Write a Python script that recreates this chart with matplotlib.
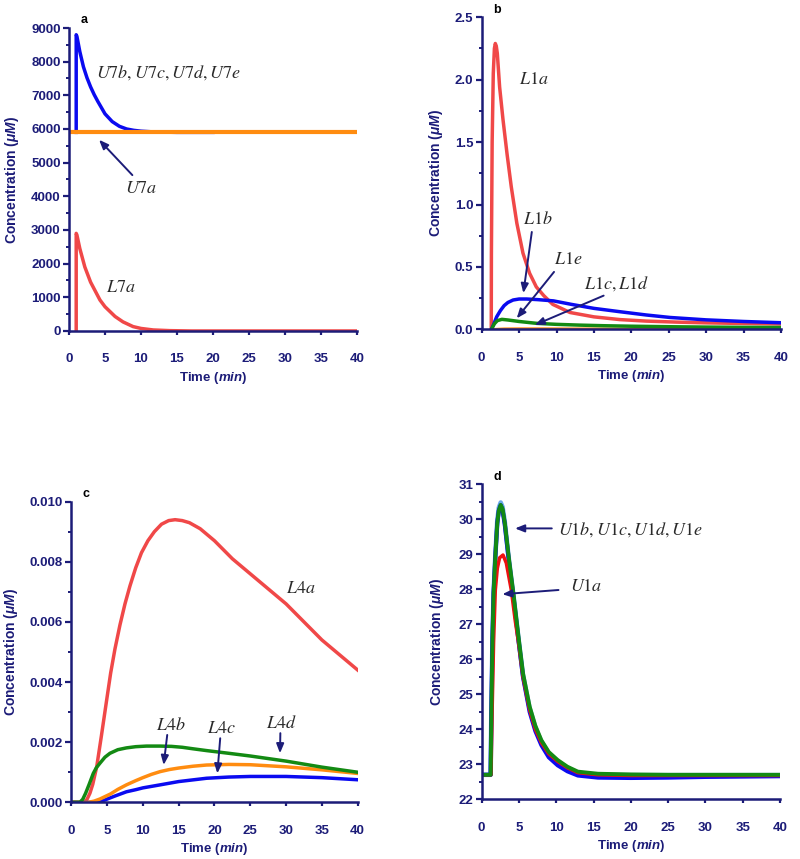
import matplotlib
matplotlib.use('Agg')
import matplotlib.pyplot as plt
from matplotlib.ticker import MultipleLocator, AutoMinorLocator, FormatStrFormatter

plt.rcParams['font.family'] = ['Liberation Sans', 'DejaVu Sans']
plt.rcParams['mathtext.fontset'] = 'custom'
plt.rcParams['mathtext.rm'] = 'Liberation Sans:bold'
plt.rcParams['mathtext.it'] = 'Liberation Sans:italic:bold'
plt.rcParams['mathtext.bf'] = 'Liberation Sans:bold'

NAVY = '#1c1c78'
RED = '#f04848'
BLUE = '#0a0af0'
ORANGE = '#ff8c10'
GREEN = '#138a13'
LABEL = '#2a2a2a'

# ---- panel a: U7 / L7 ----
t_u7a = [0, 40]
u7a = [5900, 5900]
t_u7b = [1.0, 1.0, 1.1, 1.5, 2.0, 2.5, 3.0, 3.5, 4.0, 5.0, 6.0, 7.0, 8.0, 9.0, 10.0, 12.0, 15.0, 20.0]
u7b = [5900, 8800, 8750, 8300, 7850, 7520, 7250, 7020, 6820, 6450, 6220, 6080, 6000, 5960, 5935, 5910, 5900, 5900]
t_l7a = [1.0, 1.0, 1.1, 1.5, 2.2, 3.0, 4.3, 5.0, 6.4, 7.5, 8.9, 10.0, 11.7, 14.0, 17.0, 40.0]
l7a = [0, 2900, 2850, 2450, 1900, 1450, 920, 720, 430, 270, 130, 75, 30, 10, 0, 0]

# ---- panel b: L1 ----
t_l1a = [1.28, 1.3, 1.4, 1.55, 1.7, 1.82, 1.95, 2.09, 2.4, 2.85, 3.4, 3.96, 4.7, 5.52, 6.4,
         7.3, 8.3, 9.5, 11.8, 15, 18.5, 22, 26, 30, 35, 40]
l1a = [0, 0.6, 1.5, 2.05, 2.25, 2.29, 2.27, 2.21, 1.94, 1.68, 1.4, 1.14, 0.85, 0.61, 0.45,
       0.34, 0.27, 0.2, 0.135, 0.1, 0.078, 0.066, 0.058, 0.052, 0.047, 0.043]
t_l1b = [1.3, 1.6, 2.0, 2.5, 3.0, 3.5, 4.2, 5.0, 6.0, 7.5, 9.6, 12.0, 15.0, 18.5, 22.0, 25.2, 30.0, 35.0, 40.0]
l1b = [0.0, 0.04, 0.1, 0.15, 0.19, 0.215, 0.235, 0.243, 0.243, 0.238, 0.228, 0.2, 0.168, 0.141, 0.115,
       0.095, 0.076, 0.063, 0.053]
t_l1e = [1.3, 1.7, 2.1, 2.7, 3.5, 5.0, 7.35, 10.0, 13.0, 16.3, 20.0, 25.0, 30.0, 35.0, 40.0]
l1e = [0.0, 0.045, 0.07, 0.08, 0.075, 0.063, 0.048, 0.04, 0.034, 0.029, 0.025, 0.021, 0.018, 0.016, 0.015]
t_l1c = [1.3, 2.0, 3.0, 5.0, 8.0, 12.0, 20.0, 30.0, 40.0]
l1c = [0, 0.004, 0.007, 0.008, 0.008, 0.007, 0.006, 0.005, 0.004]

# ---- panel c: L4 ----
t_l4a = [0, 1.8, 2.2, 2.6, 3.0, 3.55, 4.2, 4.94, 5.5, 6.1, 6.8, 7.5, 8.2, 9.0, 9.8, 10.7, 11.6, 12.6,
         13.6, 14.5, 15.5, 16.5, 18.0, 20.0, 22.5, 25.0, 27.5, 30.0, 32.5, 35.0, 37.5, 40.0]
l4a = [0, 0, 0.0001, 0.0003, 0.0006, 0.00118, 0.0022, 0.0034, 0.0043, 0.0051, 0.0059, 0.0066, 0.0072,
       0.0078, 0.0083, 0.0087, 0.0090, 0.00925, 0.00937, 0.0094, 0.00937, 0.0093, 0.0091, 0.0087,
       0.0081, 0.0076, 0.0071, 0.0066, 0.0060, 0.0054, 0.0049, 0.0044]
t_l4d = [0, 1.2, 1.6, 2.0, 2.5, 3.07, 3.5, 4.0, 4.7, 5.4, 6.5, 7.7, 9.0, 10.5, 12.4, 14.0, 15.5, 17.0,
         18.9, 22.0, 25.0, 30.0, 35.0, 40.0]
l4d = [0, 0, 0.0001, 0.0003, 0.0006, 0.00096, 0.00115, 0.0013, 0.0015, 0.00163, 0.00175, 0.00181,
       0.00185, 0.00187, 0.00187, 0.00186, 0.00183, 0.00178, 0.00172, 0.00163, 0.00154, 0.00137,
       0.00117, 0.001]
t_l4c = [0, 2.4, 3.2, 4.0, 5.5, 6.5, 7.7, 9.0, 10.0, 11.2, 12.4, 13.7, 15.0, 17.0, 18.9, 22.0, 25.0,
         30.0, 35.0, 40.0]
l4c = [0, 0, 0.00004, 0.00011, 0.00028, 0.00043, 0.00058, 0.00072, 0.00082, 0.00093, 0.00102, 0.00109,
       0.00114, 0.0012, 0.00124, 0.00126, 0.00125, 0.00118, 0.00108, 0.00096]
t_l4b = [0, 3.1, 4.5, 6.0, 7.7, 9.0, 10.0, 11.2, 12.4, 15.0, 18.9, 22.0, 25.0, 30.0, 35.0, 40.0]
l4b = [0, 0, 0.00006, 0.0002, 0.00035, 0.00042, 0.00048, 0.00053, 0.00058, 0.00069, 0.0008, 0.00084,
       0.00086, 0.00086, 0.00082, 0.00075]

# ---- panel d: U1 ----
t_u1 = [0, 1.2, 1.3, 1.45, 1.6, 1.83, 2.09, 2.3, 2.55, 2.8, 3.1, 3.62, 4.3, 4.96, 5.54, 6.43, 7.2,
        8.0, 9.0, 10.2, 11.5, 12.9, 15.6, 20, 25, 30, 40]
u1e = [22.7, 22.7, 24.5, 26.6, 27.9, 28.93, 29.89, 30.25, 30.41, 30.3, 29.9, 28.93, 27.8, 26.6, 25.6,
       24.65, 24.1, 23.69, 23.35, 23.12, 22.93, 22.79, 22.73, 22.71, 22.7, 22.7, 22.7]
u1c = [22.7, 22.7, 24.5, 26.6, 27.9, 28.95, 29.95, 30.33, 30.48, 30.35, 29.92, 28.9, 27.75, 26.55, 25.55,
       24.6, 24.05, 23.65, 23.3, 23.08, 22.9, 22.76, 22.7, 22.69, 22.69, 22.69, 22.69]
u1b = [22.7, 22.7, 24.5, 26.6, 27.9, 28.93, 29.89, 30.25, 30.4, 30.25, 29.85, 28.85, 27.7, 26.5, 25.5,
       24.5, 23.95, 23.55, 23.2, 22.97, 22.8, 22.68, 22.62, 22.61, 22.62, 22.64, 22.66]
t_u1a = [0, 1.25, 1.4, 1.6, 1.83, 2.1, 2.4, 2.86, 3.3, 3.97, 4.5, 4.96, 5.54, 6.43, 7.2, 8.0, 9.0,
         10.2, 11.5, 12.9, 15.6, 20, 30, 40]
u1a = [22.7, 22.7, 24.5, 26.5, 27.98, 28.6, 28.9, 28.98, 28.75, 27.98, 27.1, 26.45, 25.5, 24.55, 24.0,
       23.62, 23.3, 23.08, 22.9, 22.76, 22.7, 22.68, 22.68, 22.68]


def style_ax(ax, ymax, ymin, ystep, fmt, letter, ylab_x, xlab_y):
    ax.set_xlim(0, 40)
    ax.set_ylim(ymin, ymax)
    for side in ['top', 'right']:
        ax.spines[side].set_visible(False)
    for side in ['left', 'bottom']:
        ax.spines[side].set_color(NAVY)
        ax.spines[side].set_linewidth(1.8)
    ax.xaxis.set_major_locator(MultipleLocator(5))
    ax.yaxis.set_major_locator(MultipleLocator(ystep))
    ax.yaxis.set_minor_locator(AutoMinorLocator(2))
    ax.yaxis.set_major_formatter(FormatStrFormatter(fmt))
    ax.tick_params(axis='x', which='major', direction='out', length=3, width=1.6,
                   color=NAVY, labelcolor=NAVY, pad=13, labelsize=9.5)
    ax.tick_params(axis='y', which='major', direction='out', length=4.5, width=1.6,
                   color=NAVY, labelcolor=NAVY, pad=1.5, labelsize=9.5)
    ax.tick_params(axis='y', which='minor', direction='out', length=2.5, width=1.4, color=NAVY)
    for lab in ax.get_xticklabels() + ax.get_yticklabels():
        lab.set_fontweight('bold')
    ax.set_ylabel(r'Concentration ($\mu M$)', color=NAVY, fontsize=10, fontweight='bold')
    ax.yaxis.set_label_coords(ylab_x, 0.5)
    ax.set_xlabel(r'Time ($min$)', color=NAVY, fontsize=9.5, fontweight='bold')
    ax.xaxis.set_label_coords(0.5, xlab_y)
    ax.text(0.04, 1.005, letter, transform=ax.transAxes, fontsize=9, fontweight='bold',
            color='black', va='bottom', ha='left')


def label(ax, x, y, s):
    ax.text(x, y, s, fontsize=13, color=LABEL, ha='left', va='center', math_fontfamily='stix')


def arrow(ax, tail, head):
    ax.annotate('', xy=head, xytext=tail,
                arrowprops=dict(arrowstyle='-|>,head_length=0.55,head_width=0.22',
                                color=NAVY, lw=1.4, shrinkA=0, shrinkB=0))


fig = plt.figure(figsize=(8, 8.59), dpi=100)
ax_a = fig.add_axes([0.08625, 0.6147, 0.36, 0.3527])
ax_b = fig.add_axes([0.6021, 0.6166, 0.3741, 0.3633])
ax_c = fig.add_axes([0.0891, 0.0660, 0.358, 0.350])
ax_d = fig.add_axes([0.6021, 0.0695, 0.3729, 0.3667])

lw = 2.5

# a
ax_a.plot(t_u7b, u7b, color=BLUE, lw=lw)
ax_a.plot(t_u7a, u7a, color=ORANGE, lw=lw + 0.5)
ax_a.plot(t_l7a, l7a, color=RED, lw=lw)
style_ax(ax_a, 9000, 0, 1000, '%d', 'a', -0.167, -0.129)
label(ax_a, 3.7, 7670, r'$U7b,U7c,U7d,U7e$')
label(ax_a, 7.8, 4240, r'$U7a$')
label(ax_a, 5.1, 1300, r'$L7a$')
arrow(ax_a, (8.8, 4630), (4.17, 5680))

# b
ax_b.plot(t_l1a, l1a, color=RED, lw=lw)
ax_b.plot(t_l1c, l1c, color=ORANGE, lw=1.5)
ax_b.plot(t_l1b, l1b, color=BLUE, lw=lw)
ax_b.plot(t_l1e, l1e, color=GREEN, lw=lw)
style_ax(ax_b, 2.5, 0, 0.5, '%.1f', 'b', -0.124, -0.125)
label(ax_b, 5.0, 2.0, r'$L1a$')
label(ax_b, 5.57, 0.876, r'$L1b$')
label(ax_b, 9.67, 0.556, r'$L1e$')
label(ax_b, 13.7, 0.363, r'$L1c,L1d$')
arrow(ax_b, (6.7, 0.78), (5.57, 0.29))
arrow(ax_b, (9.67, 0.46), (4.68, 0.088))
arrow(ax_b, (16.3, 0.27), (7.1, 0.035))

# c
ax_c.plot(t_l4a, l4a, color=RED, lw=lw)
ax_c.plot(t_l4b, l4b, color=BLUE, lw=lw)
ax_c.plot(t_l4c, l4c, color=ORANGE, lw=lw)
ax_c.plot(t_l4d, l4d, color=GREEN, lw=lw)
style_ax(ax_c, 0.010, 0, 0.002, '%.3f', 'c', -0.178, -0.13)
label(ax_c, 30.0, 0.00712, r'$L4a$')
label(ax_c, 11.8, 0.00254, r'$L4b$')
label(ax_c, 19.0, 0.00246, r'$L4c$')
label(ax_c, 27.15, 0.00263, r'$L4d$')
arrow(ax_c, (13.4, 0.00224), (12.9, 0.00124))
arrow(ax_c, (20.8, 0.00213), (20.4, 0.00096))
arrow(ax_c, (29.2, 0.0023), (29.15, 0.00163))

# d
ax_d.plot(t_u1, u1c, color='#6aa8e8', lw=lw + 0.8)
ax_d.plot(t_u1, u1b, color=BLUE, lw=lw + 0.5)
ax_d.plot(t_u1a, u1a, color='#ee1010', lw=lw)
ax_d.plot(t_u1, u1e, color=GREEN, lw=lw + 0.3)
style_ax(ax_d, 31, 22, 1, '%d', 'd', -0.121, -0.124)
label(ax_d, 10.3, 29.71, r'$U1b,U1c,U1d,U1e$')
label(ax_d, 11.9, 28.08, r'$U1a$')
arrow(ax_d, (9.4, 29.74), (4.47, 29.74))
arrow(ax_d, (10.3, 27.98), (2.77, 27.86))

fig.savefig('out.png', dpi=100)
